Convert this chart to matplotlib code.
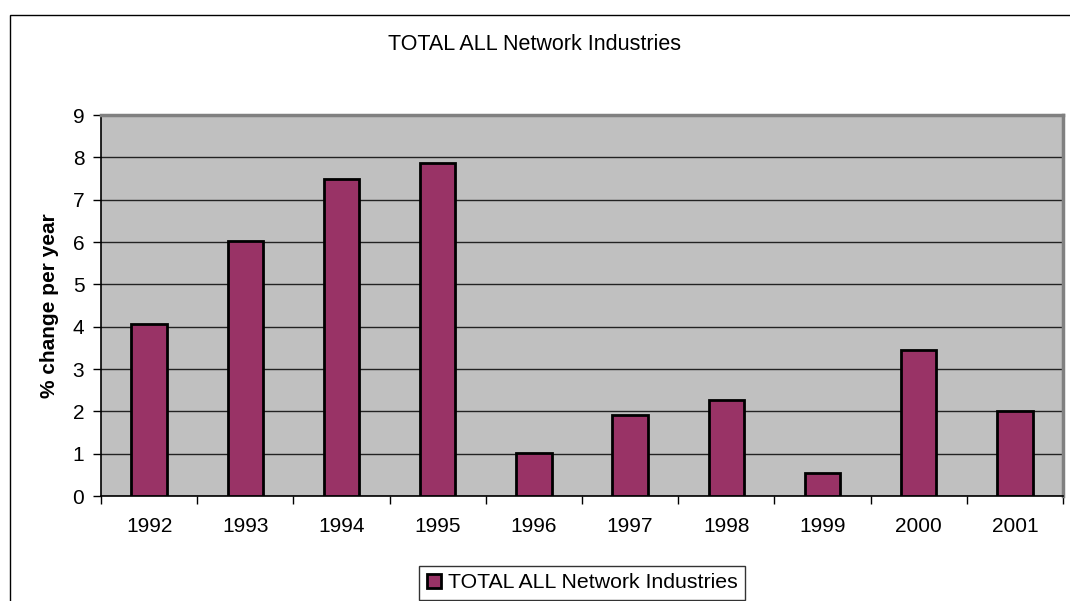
import numpy as np
import matplotlib
matplotlib.use("Agg")
import matplotlib.pyplot as plt
from matplotlib.patches import Rectangle
from matplotlib.ticker import FixedLocator

matplotlib.rcParams['font.family'] = ["Liberation Sans", "DejaVu Sans"]

# data
years = ["1992", "1993", "1994", "1995", "1996", "1997", "1998", "1999", "2000", "2001"]
values = [4.06, 6.03, 7.50, 7.87, 1.02, 1.91, 2.26, 0.54, 3.44, 2.00]
series_name = "TOTAL ALL Network Industries"

fig = plt.figure(figsize=(10.70, 6.01), dpi=100)
fig.patch.set_facecolor("white")

# outer chart frame (runs off the right and bottom edges)
fig.patches.append(Rectangle((10 / 1070, -0.1), 1.2, 1 - 15 / 601 + 0.1,
                             transform=fig.transFigure, fill=False,
                             edgecolor="black", linewidth=1.0, clip_on=False))

ax = fig.add_axes([101 / 1070, 1 - 496 / 601, (1063 - 101) / 1070, (496 - 115) / 601])
ax.set_facecolor("#C0C0C0")

x = np.arange(len(years))
ax.bar(x, values, width=0.37, color="#993366", edgecolor="black",
       linewidth=2.0, label=series_name, zorder=3)

ax.set_xlim(-0.5, len(years) - 0.5)
ax.set_ylim(0, 9)
ax.set_yticks(range(0, 10))
ax.set_xticks(x)
ax.set_xticklabels(years)
ax.xaxis.set_minor_locator(FixedLocator(np.arange(-0.5, len(years), 1.0)))

ax.yaxis.grid(True, color="#222222", linewidth=1.0, zorder=1)
ax.set_axisbelow(True)

ax.tick_params(axis="x", which="major", length=0, labelsize=15, pad=15)
ax.tick_params(axis="x", which="minor", length=6, width=1.0, direction="out")
ax.tick_params(axis="y", labelsize=15, length=6, width=1.0, direction="out", pad=6)

for side in ["left", "bottom"]:
    ax.spines[side].set_color("black")
    ax.spines[side].set_linewidth(1.2)
for side in ["top", "right"]:
    ax.spines[side].set_color("#808080")
    ax.spines[side].set_linewidth(2.5)

ax.set_ylabel("% change per year", fontsize=15, fontweight="bold", labelpad=10)

fig.text(0.500, 1 - 45 / 601, series_name, ha="center", va="center", fontsize=15.5)

leg = fig.legend(loc="upper center", bbox_to_anchor=(582 / 1070, 1 - 566 / 601),
                 fontsize=15.3, frameon=True, fancybox=False, edgecolor="black",
                 handlelength=0.7, handleheight=0.7, handletextpad=0.3,
                 borderpad=0.35, borderaxespad=0)
leg.get_frame().set_linewidth(1.0)

plt.savefig("out.png", dpi=100)
